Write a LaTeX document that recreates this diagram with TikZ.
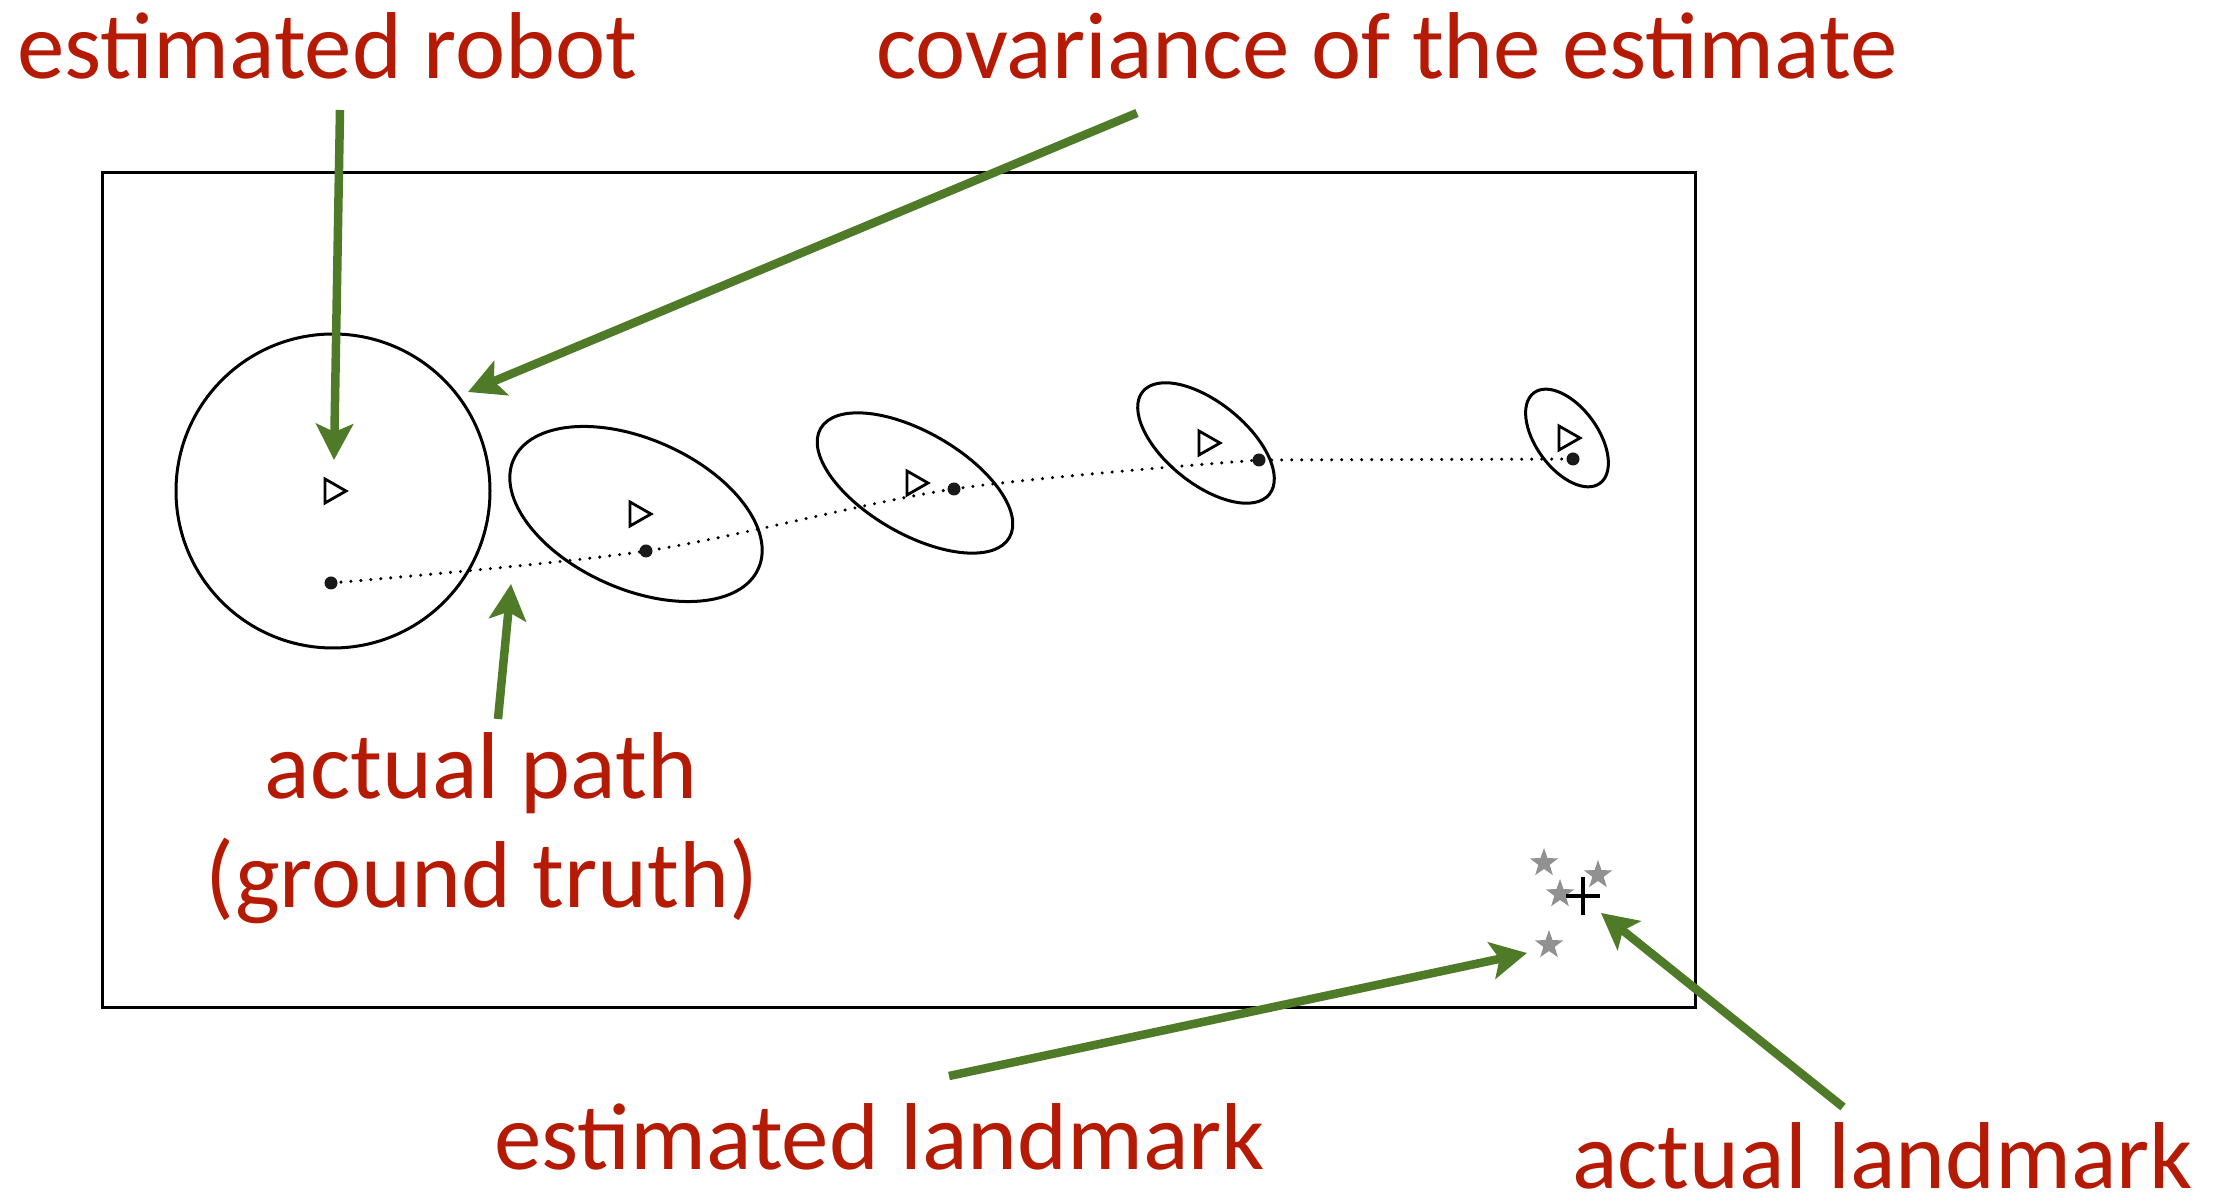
\documentclass[tikz,border=0pt]{standalone}
\usepackage{fontspec}
\setmainfont{Carlito}
\usetikzlibrary{arrows.meta,shapes.geometric}
\definecolor{lblred}{RGB}{181,26,4}
\definecolor{arrgreen}{RGB}{79,122,40}
\definecolor{stargray}{RGB}{145,145,145}
\tikzset{
  lbl/.style={text=lblred, font=\fontsize{95}{110}\selectfont, inner sep=0pt, anchor=base west},
  pointer/.style={draw=arrgreen, line width=8.5pt, -{Stealth[length=36pt,width=37pt,inset=8pt]}},
  cov/.style={draw=black, line width=3pt},
  robot/.style={draw=black, line width=2.8pt, line join=miter},
  truedot/.style={circle, fill=black!90, inner sep=0pt, minimum size=13pt},
  lmstar/.style={star, star points=5, star point ratio=2.5, fill=stargray, draw=none, inner sep=0pt, minimum size=30pt},
  trail/.style={draw=black, line width=3.4pt, line cap=round, dash pattern=on 0pt off 10pt}
}
\begin{document}
\begin{tikzpicture}[x=1pt,y=1pt]
\useasboundingbox (0,0) rectangle (2220,1200);
% frame
\draw[line width=3pt] (102,192) rectangle (1695,1027);
% covariance ellipses
\draw[cov] (333,709) circle (157);
\draw[cov, rotate around={-24:(636,686)}] (636,686) ellipse (134 and 75);
\draw[cov, rotate around={-30:(915,717)}] (915,717) ellipse (109 and 51);
\draw[cov, rotate around={-39:(1206,757)}] (1206,757) ellipse (81.5 and 40.6);
\draw[cov, rotate around={-54:(1567,762)}] (1567,762) ellipse (56 and 31);
% estimated robot poses (triangles)
\foreach \cx/\cy in {334/709, 639/686, 916/717, 1208/757, 1568/762}{
  \draw[robot] (\cx-9,\cy+12) -- (\cx+12,\cy) -- (\cx-9,\cy-12) -- cycle;
}
% actual path
\draw[trail] plot[smooth, tension=0.5] coordinates {(331,617) (646,649) (954,711) (1259,740)} -- (1573,741);
\node[truedot] (d1) at (331,617) {};
\node[truedot] (d2) at (646,649) {};
\node[truedot] (d3) at (954,711) {};
\node[truedot] (d4) at (1259,740) {};
\node[truedot] (d5) at (1573,741) {};
% landmarks
\node[lmstar] (s1) at (1544,337) {};
\node[lmstar] (s2) at (1598,325) {};
\node[lmstar] (s3) at (1560,306) {};
\node[lmstar] (s4) at (1549,255) {};
\draw[line width=4pt] (1566,304) -- (1600,304) (1583,285) -- (1583,323);
\coordinate (lm) at (1583,304);
% labels
\node[lbl] (tRobot) at (17,1121) {estimated robot};
\node[lbl] (tCov) at (876,1121) {covariance of the estimate};
\node[lbl, anchor=base] (tPath) at (481,401) {actual path};
\node[lbl, anchor=base] (tTruth) at (482,292) {(ground truth)};
\node[lbl] (tEstLm) at (494,31) {estimated landmark};
\node[lbl] (tActLm) at (1572,12) {actual landmark};
% arrows
\coordinate (a1s) at (340,1090); \coordinate (a1e) at (334,740);
\coordinate (a2s) at (1137,1087); \coordinate (a2e) at (468,808);
\coordinate (a3s) at (498,481); \coordinate (a3e) at (511,616);
\coordinate (a4s) at (949,124); \coordinate (a4e) at (1527,247);
\coordinate (a5s) at (1843,93); \coordinate (a5e) at (1601,287);
\draw[pointer] (a1s) -- (a1e);
\draw[pointer] (a2s) -- (a2e);
\draw[pointer] (a3s) -- (a3e);
\draw[pointer] (a4s) -- (a4e);
\draw[pointer] (a5s) -- (a5e);
\end{tikzpicture}
\end{document}
